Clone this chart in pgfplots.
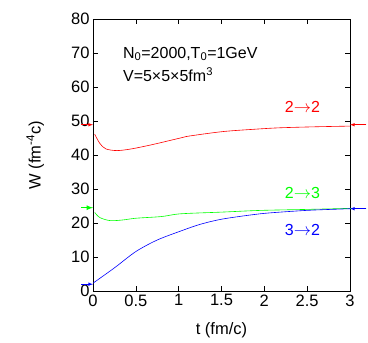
\documentclass[border=0pt]{standalone}
\usepackage{pgfplots}
\pgfplotsset{compat=1.18}
\usepackage{fontspec}
\setmainfont{Liberation Sans}
\begin{document}
\begin{tikzpicture}
\useasboundingbox (-93pt,-52pt) rectangle (275pt,291pt);
\begin{axis}[
  at={(0,0)}, anchor=south west,
  scale only axis, width=257pt, height=272pt,
  xmin=0, xmax=3, ymin=0, ymax=80,
  xtick={0,0.5,1,1.5,2,2.5,3},
  ytick={0,10,20,30,40,50,60,70,80},
  xticklabels={0,0.5,1,1.5,2,2.5,3},
  tick align=inside, major tick length=5pt,
  tick style={black, line width=0.5pt},
  axis line style={line width=0.8pt},
  /pgf/number format/assume math mode=true,
  tick label style={font=\fontsize{16.5}{19}\selectfont},
  label style={font=\fontsize{16.5}{19}\selectfont},
  xlabel={t (fm/c)},
  ylabel={W (fm\textsuperscript{-4}c)},
  ylabel style={at={(axis description cs:-0.225,0.5)}, anchor=center},
  xlabel style={at={(axis description cs:0.5,-0.143)}, anchor=center},
  clip=false,
]
% red 2->2
\addplot[red, line width=0.6pt, smooth] coordinates {
(0.02,46.1) (0.08,43.4) (0.15,41.8) (0.28,41.3) (0.45,41.8) (0.7,43.1) (1.02,45.0) (1.13,45.6) (1.52,46.9) (1.9,47.6) (2.18,48.0) (2.6,48.3) (3.0,48.5)};
% green 2->3
\addplot[green, line width=0.6pt, smooth] coordinates {
(0.02,23.1) (0.08,21.6) (0.2,20.7) (0.35,20.9) (0.5,21.4) (0.8,21.9) (1.02,22.7) (1.5,23.2) (1.95,23.7) (2.5,24.0) (3.0,24.3)};
% blue 3->2
\addplot[blue, line width=0.6pt, smooth] coordinates {
(0.0,2.3) (0.25,6.8) (0.5,11.6) (0.75,15.0) (1.02,17.6) (1.25,19.6) (1.52,21.2) (1.95,22.7) (2.3,23.4) (2.57,23.8) (3.0,24.2)};
% initial / final markers
\addplot[red, line width=0.6pt, -latex] coordinates {(-0.14,48.9) (0,48.9)};
\addplot[green, line width=1.2pt, -latex] coordinates {(-0.14,24.5) (0,24.5)};
\addplot[blue, line width=0.6pt, -latex] coordinates {(-0.14,2.0) (0,2.0)};
\addplot[red, line width=0.6pt, -latex] coordinates {(3.19,48.9) (3,48.9)};
\addplot[green, line width=0.6pt] coordinates {(3.19,24.4) (3,24.4)};
\addplot[blue, line width=0.6pt, -latex] coordinates {(3.19,24.2) (3,24.2)};
\begin{scope}[every node/.style={font=\fontsize{16}{19}\selectfont}]
\node[anchor=base west] at (axis cs:0.31,68.5) {N\textsubscript{0}=2000,T\textsubscript{0}=1GeV};
\node[anchor=base west] at (axis cs:0.31,61.5) {V=5×5×5fm\textsuperscript{3}};
\node[anchor=base west, red] at (axis cs:2.2,52.4) {2$\rightarrow$2};
\node[anchor=base west, green] at (axis cs:2.2,27.2) {2$\rightarrow$3};
\node[anchor=base west, blue] at (axis cs:2.2,16.3) {3$\rightarrow$2};
\end{scope}
\end{axis}
\end{tikzpicture}
\end{document}
